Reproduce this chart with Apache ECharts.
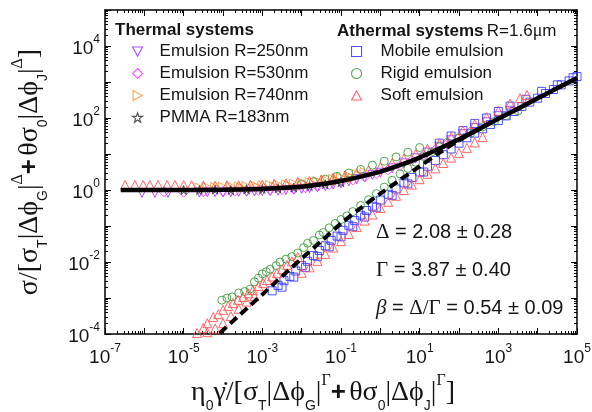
<!DOCTYPE html>
<html>
<head>
<meta charset="utf-8">
<title>scaling collapse</title>
<script src="https://cdn.jsdelivr.net/npm/echarts@6.0.0/dist/echarts.min.js"></script>
<style>
html,body{margin:0;padding:0;background:#fff;}
#main{width:592px;height:412px;}
</style>
</head>
<body>
<div id="main"></div>
<script>
// values, kept in decades: [log10 x, log10 y]
var purpleLog = [[-6.06,-0.08],[-5.73,-0.08],[-5.4,-0.08],[-4.6,-0.07],[-4.4,-0.06],[-4.2,-0.06],[-4.0,-0.07],[-3.8,-0.06],[-3.6,-0.05],[-3.4,-0.05],[-3.2,-0.04],[-3.0,-0.03],[-2.8,-0.03],[-2.6,-0.02],[-2.4,0.0],[-2.2,0.01],[-2.0,0.03],[-1.8,0.05],[-1.6,0.08],[-1.4,0.11],[-1.2,0.15],[-1.0,0.19],[-0.8,0.24],[-0.6,0.3],[-0.4,0.35],[-0.2,0.42],[0,0.48],[0.3,0.6],[0.6,0.74],[0.9,0.88],[1.2,1.04],[1.5,1.2],[1.8,1.38],[2.1,1.55],[2.4,1.72],[2.7,1.88],[3.0,2.05],[3.3,2.2]];
var magentaLog = [[-5.5,-0.05],[-5.0,-0.06],[-4.5,-0.05],[-4.0,-0.04],[-3.7,-0.03],[-3.4,-0.02],[-3.1,-0.01],[-2.8,0.0],[-2.5,0.01],[-2.2,0.03],[-1.9,0.06],[-1.6,0.1],[-1.3,0.15],[-1.0,0.21],[-0.7,0.28],[-0.4,0.36],[-0.1,0.45],[0.2,0.56],[0.5,0.68],[0.8,0.82],[1.1,0.97],[1.4,1.12],[1.7,1.28],[2.0,1.45],[2.3,1.63]];
var orangeLog = [[-4.6,0.07],[-4.4,0.08],[-4.2,0.08],[-4.0,0.09],[-3.8,0.1],[-3.6,0.1],[-3.4,0.11],[-3.2,0.12],[-3.0,0.13],[-2.8,0.14],[-2.6,0.15],[-2.4,0.16],[-2.2,0.18],[-2.0,0.2],[-1.8,0.22],[-1.6,0.25],[-1.4,0.28],[-1.2,0.31],[-1.0,0.35],[-0.8,0.39],[-0.6,0.44],[-0.4,0.5],
  [-3.5,0.06],[-3.1,0.08],[-2.7,0.1],[-2.3,0.12],[-1.9,0.15],[-1.5,0.2],[-1.1,0.26],[-0.7,0.33]];
var starLog = [[-5.0,0.0],[-4.6,0.0],[-4.2,0.01],[-3.8,0.0],[-3.4,0.02],[-3.0,0.03],[-2.6,0.05],[-2.2,0.07],[-1.8,0.11],[-1.4,0.16],[-1.0,0.22]];
var blueLog = [[-2.75,-2.8],[-2.6,-2.65],[-2.45,-2.52],[-2.3,-2.4],[-2.15,-2.25],[-2.0,-2.1],[-1.85,-1.98],[-1.7,-1.82],[-1.55,-1.68],[-1.4,-1.55],[-1.25,-1.4],[-1.1,-1.28],[-0.95,-1.12],[-0.8,-0.98],[-0.65,-0.85],[-0.5,-0.7],[-0.35,-0.57],[-0.2,-0.45],[0,-0.28],[0.2,-0.12],[0.4,0.03],[0.6,0.2],[0.8,0.35],[1.0,0.5],[1.2,0.66],[1.4,0.82],[1.6,0.98],[1.8,1.14],[2.0,1.3],[2.2,1.45],[2.4,1.58],[2.6,1.7],[2.8,1.82],[3.0,1.93],[3.2,2.06],[3.4,2.18],[3.6,2.32],[3.8,2.44],[4.0,2.55],[4.2,2.68],[4.4,2.79],[4.6,2.92],[4.8,3.03],[5.0,3.15],
  [-2.5,-2.7],[-2.2,-2.42],[-1.9,-2.15],[-1.6,-1.85],[-1.3,-1.58],[-1.0,-1.3],[-0.7,-1.02],[-0.4,-0.75],[-0.1,-0.48],[0.3,-0.15],[0.7,0.17],[1.1,0.5],
  [1.5,1.3],[1.8,1.5],[2.1,1.65],[2.4,1.85],[2.7,2.0],[3.0,2.18],[3.3,2.33],[3.7,2.52],[4.1,2.74],[4.5,2.92],[4.9,3.12]];
var greenLog = [[-4.03,-3.06],[-3.9,-3.0],[-3.77,-2.97],[-3.6,-2.86],[-3.45,-2.82],[-3.31,-2.75],[-3.2,-2.55],[-3.1,-2.45],[-3.0,-2.33],[-2.9,-2.27],[-2.8,-2.2],[-2.65,-2.1],[-2.55,-2.0],[-2.4,-1.92],[-2.25,-1.85],[-2.1,-1.75],[-1.95,-1.6],[-1.85,-1.48],[-1.7,-1.4],[-1.55,-1.25],[-1.45,-1.18],[-1.3,-1.05],[-1.15,-0.93],[-1.0,-0.82],[-0.85,-0.72],[-0.7,-0.6],[-0.5,-0.43],[-0.3,-0.27],[-0.1,-0.1],[0.1,0.08],[0.3,0.27],[0.5,0.45],[0.7,0.6],[0.9,0.77],[1.1,0.93],[1.3,1.05],[1.5,1.2],[1.7,1.32],[2.0,1.45],[2.3,1.58],[2.6,1.75],[2.9,1.9],[3.2,2.06],[3.5,2.2],
  [-2.0,0.17],[-1.7,0.23],[-1.4,0.3],[-1.1,0.38],[-0.8,0.47],[-0.5,0.57],[-0.2,0.69],[0.1,0.8],[0.4,0.92],[0.7,1.05],[1.0,1.18]];
var redLog = [[-6.49,0.14],[-6.24,0.14],[-6.03,0.14],[-5.86,0.14],[-5.65,0.14],[-5.42,0.14],[-5.22,0.14],[-5.0,0.14],[-4.8,0.13],
  [-4.5,0.12],[-4.2,0.12],[-3.9,0.13],[-3.6,0.13],[-3.3,0.14],[-3.0,0.15],[-2.7,0.17],[-2.4,0.19],[-2.1,0.22],[-1.8,0.25],[-1.5,0.29],[-1.2,0.34],[-0.9,0.4],[-0.6,0.47],[-0.3,0.55],[0,0.64],[0.3,0.75],[0.6,0.87],[0.9,1.0],[1.2,1.14],[1.5,1.3],[1.8,1.47],[2.1,1.65],[2.4,1.83],[2.7,2.02],[3.0,2.2],[3.3,2.4],[3.55,2.55],[3.73,2.64],
  [-4.66,-3.97],[-4.5,-3.83],[-4.4,-3.7],[-4.25,-3.53],[-4.12,-3.45],[-4.0,-3.33],[-3.87,-3.22],[-3.75,-3.14],[-3.62,-3.05],[-3.49,-2.97],[-3.36,-2.87],[-3.24,-2.78],[-3.1,-2.67],[-2.98,-2.58],[-2.88,-2.5],[-2.75,-2.4],[-2.63,-2.31],[-2.5,-2.2],[-2.37,-2.08],[-2.25,-1.98],[-2.1,-1.86],
  [-4.4,-3.95],[-4.2,-3.85],[-4.0,-3.7],[-3.8,-3.5],[-3.6,-3.3],[-3.4,-3.1],[-3.2,-2.95],
  [-2.0,-2.3],[-1.8,-2.15],[-1.6,-1.97],[-1.4,-1.78],[-1.2,-1.6],[-1.0,-1.42],[-0.8,-1.22],[-0.6,-1.03],[-0.4,-0.85],[-0.2,-0.68],[0,-0.5],[0.2,-0.33],[0.4,-0.16],[0.6,0.0],[0.8,0.15],[1.0,0.3],[1.2,0.45],[1.4,0.6],[1.6,0.75],[1.8,0.9],[2.0,1.03],[2.2,1.17],[2.4,1.32],[2.6,1.47]];
var solidLog = [[-6.6,0],[-5,0],[-4,0.005],[-3,0.03],[-2.5,0.055],[-2,0.09],[-1.5,0.16],[-1,0.25],[-0.5,0.37],[0,0.51],[0.5,0.69],[1,0.9],[1.5,1.15],[2,1.41],[2.5,1.69],[3,1.98],[3.5,2.26],[4,2.55],[4.5,2.83],[5,3.11]];
var dashedLog = [[-4.08,-3.97],[-3,-2.9],[-2,-1.9],[-1.5,-1.42],[-1,-0.93],[-0.5,-0.5],[0,-0.1],[0.5,0.28],[1,0.66],[1.5,1.03],[2,1.38],[2.5,1.69],[3,1.98]];

var xLabelExp = [-7,-5,-3,-1,1,3,5];
var yLabelExp = [-4,-2,0,2,4];
var minorMant = [2,3,4,5,6,7,8,9];

function toVal(arr){ return arr.map(function(p){ return [Math.pow(10,p[0]), Math.pow(10,p[1])]; }); }
function dec(k){ return Number('1e' + k); }
function decades(a,b){ var r=[]; for(var k=a;k<=b;k++) r.push(dec(k)); return r; }
function minors(a,b){ var r=[]; for(var k=a;k<b;k++) minorMant.forEach(function(m){ r.push(Number(m + 'e' + k)); }); return r; }

var TXT = '#151515';
var labelRich = {
  b:{fontSize:19,fontFamily:'Liberation Sans',color:TXT,lineHeight:24,verticalAlign:'bottom'},
  e:{fontSize:12,fontFamily:'Liberation Sans',color:TXT,lineHeight:24,verticalAlign:'top'}
};
function fmt(v){ return '{b|10}{e|' + Math.round(Math.log10(v)) + '}'; }

var nameRich = {
  g:{fontFamily:'Liberation Serif, DejaVu Serif',fontSize:28,color:TXT,lineHeight:40,verticalAlign:'middle'},
  s:{fontFamily:'Liberation Sans',fontSize:14,color:TXT,lineHeight:40,verticalAlign:'bottom'},
  p:{fontFamily:'Liberation Serif',fontSize:16,color:TXT,lineHeight:40,verticalAlign:'top'},
  n:{fontFamily:'Liberation Sans',fontWeight:'bold',fontSize:26,color:TXT,lineHeight:40,verticalAlign:'middle'}
};
var xName = '{g|η}{s|0}{g|γ̇/[σ}{s|T}{g||Δϕ}{s|G}{g||}{p|Γ}{n|+} {g|θσ}{s|0}{g||Δϕ}{s|J}{g||}{p|Γ}{g|]}';
var yName = '{g|σ/[σ}{s|T}{g||Δϕ}{s|G}{g||}{p|Δ}{n|+} {g|θσ}{s|0}{g||Δϕ}{s|J}{g||}{p|Δ}{g|]}';

function axis(dim, pos, minor, withLabels){
  var lo = dim === 'x' ? -7 : -4, hi = 5;
  var a = {
    type:'log', logBase:10, min:dec(lo), max:dec(hi), position:pos,
    axisLine:{show:!minor, onZero:false, lineStyle:{color:'#000', width:1.5}},
    axisTick:{show:true, inside:true, length: minor ? 3 : 6,
      customValues: minor ? minors(lo,hi) : decades(lo,hi),
      lineStyle:{color:'#000', width:1}},
    minorTick:{show:false}, splitLine:{show:false},
    axisLabel:{show:false}
  };
  if (withLabels) {
    a.axisLabel = {show:true, formatter:fmt, rich:labelRich,
      customValues:(dim === 'x' ? xLabelExp : yLabelExp).map(dec),
      margin: dim === 'x' ? 9 : 5};
    a.name = dim === 'x' ? xName : yName;
    a.nameLocation = 'middle';
    a.nameGap = dim === 'x' ? 39 : 55;
    a.nameTextStyle = dim === 'x' ? {rich:nameRich, padding:[0,36,0,0]} : {rich:nameRich};
  }
  return a;
}

var star = 'path://M10 0 L12.245 6.91 L19.51 6.91 L13.63 11.18 L15.88 18.09 L10 13.82 L4.12 18.09 L6.37 11.18 L0.49 6.91 L7.755 6.91 Z';
var triDown = 'path://M0 0 L10 0 L5 9 Z';
var triRight = 'path://M0 0 L9 5 L0 10 Z';
var triUp = 'path://M5 0 L10 9 L0 9 Z';
var diamond = 'path://M5 0 L10 5 L5 10 L0 5 Z';
var CLEAR = 'rgba(0,0,0,0)';

function sc(name, data, symbol, rot, color, size){
  return {type:'scatter', name:name, data:toVal(data), symbol:symbol, symbolRotate:rot, symbolSize:size,
    itemStyle:{color:CLEAR, borderColor:color, borderWidth:1, opacity:0.85},
    emphasis:{disabled:true}, silent:true, z:2};
}
function lg(name, color, icon){
  var d = {name:name, itemStyle:{color:CLEAR, borderColor:color, borderWidth:1.1}};
  if (icon) d.icon = icon;
  return d;
}

var chart = echarts.init(document.getElementById('main'), null, {renderer:'canvas'});
chart.setOption({
  animation:false,
  backgroundColor:'#fff',
  grid:{left:105, right:15, top:10, bottom:78, outerBoundsMode:'none'},
  xAxis:[axis('x','bottom',false,true), axis('x','bottom',true,false), axis('x','top',false,false), axis('x','top',true,false)],
  yAxis:[axis('y','left',false,true), axis('y','left',true,false), axis('y','right',false,false), axis('y','right',true,false)],
  legend:[
    {data:[lg('Emulsion R=250nm','#9933ff',triDown), lg('Emulsion R=530nm','#ff33ff',diamond), lg('Emulsion R=740nm','#ff9933',triRight), lg('PMMA R=183nm','#333333')],
     orient:'vertical', left:132, top:41, padding:0, itemWidth:10, itemHeight:10, itemGap:1,
     selectedMode:false,
     textStyle:{fontSize:17, fontFamily:'Liberation Sans', color:TXT, lineHeight:21, padding:[0,0,0,12]}},
    {data:[lg('Mobile emulsion','#3333ff'), lg('Rigid emulsion','#339933'), lg('Soft emulsion','#ff4d4d',triUp)],
     orient:'vertical', left:351, top:41, padding:0, itemWidth:10, itemHeight:10, itemGap:1,
     selectedMode:false,
     textStyle:{fontSize:17, fontFamily:'Liberation Sans', color:TXT, lineHeight:21, padding:[0,0,0,14]}}
  ],
  graphic:[
    {type:'text', x:115, y:30, style:{text:'Thermal systems', font:'bold 17px "Liberation Sans"', fill:TXT, verticalAlign:'middle'}},
    {type:'text', x:337, y:31, style:{text:'{b|Athermal systems} {r|R=1.6}{m|μ}{r|m}', verticalAlign:'middle',
      rich:{b:{font:'bold 17px "Liberation Sans"', fill:TXT}, r:{font:'17px "Liberation Sans"', fill:TXT}, m:{font:'18px "Liberation Serif"', fill:TXT}}}},
    {type:'text', x:376, y:232, style:{text:'{g|Δ}{n| = 2.08 ± 0.28}', verticalAlign:'middle',
      rich:{g:{font:'21px "Liberation Serif"', fill:TXT}, n:{font:'20px "Liberation Sans"', fill:TXT}}}},
    {type:'text', x:376, y:270, style:{text:'{g|Γ}{n| = 3.87 ± 0.40}', verticalAlign:'middle',
      rich:{g:{font:'21px "Liberation Serif"', fill:TXT}, n:{font:'20px "Liberation Sans"', fill:TXT}}}},
    {type:'text', x:376, y:308, style:{text:'{i|β}{n| = }{g|Δ/Γ}{n| = 0.54 ± 0.09}', verticalAlign:'middle',
      rich:{i:{font:'italic 21px "Liberation Serif"', fill:TXT}, g:{font:'21px "Liberation Serif"', fill:TXT}, n:{font:'20px "Liberation Sans"', fill:TXT}}}}
  ],
  series:[
    sc('Emulsion R=250nm', purpleLog, 'triangle', 180, '#9933ff', 9),
    sc('Emulsion R=530nm', magentaLog, 'diamond', 0, '#ff33ff', 10),
    sc('Emulsion R=740nm', orangeLog, 'triangle', -90, '#ff9933', 9),
    sc('PMMA R=183nm', starLog, star, 0, '#333333', 9),
    sc('Mobile emulsion', blueLog, 'rect', 0, '#3333ff', 8),
    sc('Rigid emulsion', greenLog, 'circle', 0, '#339933', 8),
    sc('Soft emulsion', redLog, 'triangle', 0, '#ff4d4d', 9),
    {type:'line', data:toVal(solidLog), showSymbol:false, smooth:0.3, silent:true, z:5,
     lineStyle:{color:'#000', width:4.5}},
    {type:'line', data:toVal(dashedLog), showSymbol:false, smooth:0.3, silent:true, z:5,
     lineStyle:{color:'#000', width:4, type:[9,5]}}
  ]
});
</script>
</body>
</html>
